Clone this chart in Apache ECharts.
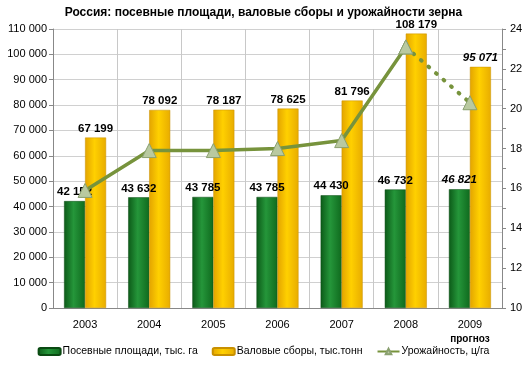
<!DOCTYPE html>
<html><head><meta charset="utf-8">
<script src="https://cdn.jsdelivr.net/npm/echarts@6/dist/echarts.min.js"></script>
<style>html,body{margin:0;padding:0;background:#fff}#c{width:527px;height:366px}</style>
</head><body><div id="c"></div>
<script>
const categories = ['2003','2004','2005','2006','2007','2008','2009'];
const area = [42152, 43632, 43785, 43785, 44430, 46732, 46821];
const gross = [67199, 78092, 78187, 78625, 81796, 108179, 95071];
const yieldSolid = [15.9, 17.9, 17.9, 18.0, 18.4, 23.1, '-'];
const yieldForecast = ['-', '-', '-', '-', '-', 23.1, 20.3];
const seriesNames = ['Посевные площади, тыс. га', 'Валовые сборы, тыс.тонн', 'Урожайность, ц/га'];

const fmt = v => String(v).replace(/\B(?=(\d{3})+(?!\d))/g, ' ');
const font = 'Liberation Sans, Arial, sans-serif';
const chart = echarts.init(document.getElementById('c'));
const lbl = () => ({
  show: true, position: 'top', distance: 3, color: '#000', fontWeight: 'bold',
  fontSize: 11.5, fontFamily: font,
  formatter: p => fmt(p.value)
});
const mkData = (arr) => arr.map((v, i) => i === 6 ? {value: v, label: {fontStyle: 'italic'}} : v);
const green = new echarts.graphic.LinearGradient(0,0,1,0,[{offset:0,color:'#0c5a18'},{offset:0.45,color:'#25963a'},{offset:1,color:'#0f6a1e'}]);
const yellow = new echarts.graphic.LinearGradient(0,0,1,0,[{offset:0,color:'#e3a400'},{offset:0.45,color:'#ffd000'},{offset:1,color:'#e8ac00'}]);
chart.setOption({
  animation: false,
  title: {text: 'Россия: посевные площади, валовые сборы и урожайности зерна', left: 'center', top: 2,
    textStyle: {fontSize: 12, fontWeight: 'bold', fontFamily: font, color: '#000'}},
  grid: {left: 53, right: 25, top: 29, bottom: 58},
  legend: {bottom: 4, left: 'center', itemGap: 14, itemWidth: 22, itemHeight: 7,
    textStyle: {fontSize: 10.5, fontFamily: font, color: '#000', padding: [0,0,0,-3]},
    data: [seriesNames[0], seriesNames[1], seriesNames[2]]},
  xAxis: {type: 'category', data: categories,
    axisLine: {lineStyle: {color: '#888'}}, axisTick: {show: false},
    splitLine: {show: true, interval: 0, lineStyle: {color: '#c8c8c8'}},
    axisLabel: {interval: 0, fontSize: 11, fontFamily: font, color: '#000', margin: 10, lineHeight: 14,
      formatter: v => v === '2009' ? '2009\n{b|прогноз}' : v,
      rich: {b: {fontSize: 10, fontWeight: 'bold', fontFamily: font, color: '#000', lineHeight: 14}}}},
  yAxis: [
    {type: 'value', min: 0, max: 110000, interval: 10000,
      axisLine: {show: true, lineStyle: {color: '#888'}}, axisTick: {show: true, length: 4, lineStyle: {color: '#888'}},
      splitLine: {lineStyle: {color: '#d0d0d0'}},
      axisLabel: {fontSize: 11, fontFamily: font, color: '#000', formatter: fmt, margin: 6}},
    {type: 'value', min: 10, max: 24, interval: 2,
      axisLine: {show: true, lineStyle: {color: '#888'}}, axisTick: {show: true, length: 4, lineStyle: {color: '#888'}},
      minorTick: {show: true, splitNumber: 2, length: 4, lineStyle: {color: '#888'}},
      splitLine: {show: false},
      axisLabel: {fontSize: 11, fontFamily: font, color: '#000', margin: 8}}
  ],
  series: [
    {name: seriesNames[0], type: 'bar', data: mkData(area), barWidth: 21, barGap: '0%',
      itemStyle: {color: green, borderColor: '#0a4a12', borderWidth: 0.5}, label: lbl()},
    {name: seriesNames[1], type: 'bar', data: mkData(gross), barWidth: 21, barGap: '0%',
      itemStyle: {color: yellow, borderColor: '#c89000', borderWidth: 0.5}, label: lbl()},
    {name: seriesNames[2], type: 'line', yAxisIndex: 1, data: yieldSolid,
      lineStyle: {color: '#77933c', width: 3.5}, itemStyle: {color: '#b9c9a0', borderColor: '#8aa070', borderWidth: 1},
      symbol: 'triangle', symbolSize: 14, z: 5},
    {name: seriesNames[2], type: 'line', yAxisIndex: 1, data: yieldForecast,
      lineStyle: {color: '#77933c', width: 4, type: [1, 9], cap: 'round'}, itemStyle: {color: '#b9c9a0', borderColor: '#8aa070', borderWidth: 1},
      symbol: 'triangle', symbolSize: 14, z: 4}
  ]
});
</script></body></html>
